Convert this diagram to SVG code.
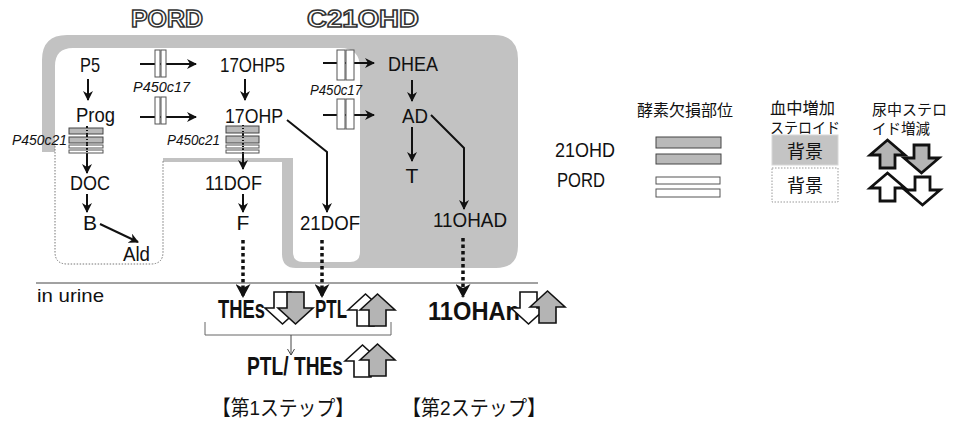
<svg xmlns="http://www.w3.org/2000/svg" width="959" height="421" viewBox="0 0 959 421">
<style>
.t{font-family:"Liberation Sans",Arial,sans-serif;font-size:21px;fill:#111}
.i{font-family:"Liberation Sans",Arial,sans-serif;font-size:15px;font-style:italic;fill:#111}
.b{font-family:"Liberation Sans",Arial,sans-serif;font-size:25px;font-weight:bold;fill:#111}
.j{font-family:"Liberation Sans","Noto Sans CJK JP",sans-serif;font-size:16px;fill:#111}
.ttl{font-family:"Liberation Sans",Arial,sans-serif;font-size:24px;font-weight:bold;fill:#fff;stroke:#333;stroke-width:1.5}
.ln{fill:none;stroke:#111;stroke-width:2}
.dot{fill:none;stroke:#111;stroke-width:3.5;stroke-dasharray:3.5 3}
.gb{fill:#b9b9b9;stroke:#444;stroke-width:1}
.wb{fill:#fff;stroke:#555;stroke-width:1}
.ga{fill:#b4b4b4;stroke:#111;stroke-width:1.6;stroke-linejoin:miter}
.wa{fill:#fff;stroke:#111;stroke-width:1.6;stroke-linejoin:miter}
.lga{fill:#b4b4b4;stroke:#111;stroke-width:2.8}
.lwa{fill:#fff;stroke:#111;stroke-width:2.8}
</style>
<defs>
<marker id="ah" viewBox="0 0 10 10" refX="9" refY="5" markerWidth="10" markerHeight="10" markerUnits="userSpaceOnUse" orient="auto">
<path d="M0,0 L10,5 L0,10 L3,5 Z" fill="#111"/>
</marker>
<marker id="dh" viewBox="0 0 14 15" refX="13" refY="7.5" markerWidth="14" markerHeight="15" markerUnits="userSpaceOnUse" orient="auto">
<path d="M0,0 L14,7.5 L0,15 L4,7.5 Z" fill="#111"/>
</marker>
<path id="U" d="M0,16 L17.5,0 L35,16 L26,16 L26,32 L9,32 L9,16 Z"/>
<path id="D" d="M9,0 L26,0 L26,16 L35,16 L17.5,32 L0,16 L9,16 Z"/>
<path id="LU" d="M0,15 L17.5,0 L35,15 L25,15 L25,28 L10,28 L10,15 Z"/>
<path id="LD" d="M10,0 L25,0 L25,13 L35,13 L17.5,28 L0,13 L10,13 Z"/>
</defs>
<rect width="959" height="421" fill="#fff"/>

<g id="region">
<path d="M42,152 L42,60 Q42,35 67,35 L494,35 Q518,35 518,59 L518,246 Q518,268 496,268 L296,268 Q282,268 282,254 L282,162 L163,162 L163,152 Z" fill="#c2c2c2"/>
<path d="M55,150 L55,66 Q55,48 73,48 L340,48 Q360,48 360,68 L360,252 Q360,262 350,262 L303,262 Q293,262 293,252 L293,158 L163,158 L163,252 Q163,264 151,264 L67,264 Q55,264 55,252 Z" fill="#fff"/>
<path d="M55,140 L55,252 Q55,264 67,264 L151,264 Q163,264 163,252 L163,160" fill="none" stroke="#777" stroke-width="1" stroke-dasharray="1.5 1.5"/>
</g>

<g id="titles">
<text class="ttl" x="131" y="27" textLength="72" lengthAdjust="spacingAndGlyphs">PORD</text>
<text class="ttl" x="307" y="27" textLength="112" lengthAdjust="spacingAndGlyphs">C21OHD</text>
</g>

<g id="connectors">
<line class="ln" x1="88" y1="79" x2="88" y2="100" marker-end="url(#ah)"/>
<line class="ln" x1="245" y1="79" x2="245" y2="100" marker-end="url(#ah)"/>
<line class="ln" x1="412" y1="80" x2="412" y2="101" marker-end="url(#ah)"/>
<line class="ln" x1="87" y1="126" x2="87" y2="173" marker-end="url(#ah)"/>
<line class="ln" x1="87" y1="194" x2="87" y2="212" marker-end="url(#ah)"/>
<line class="ln" x1="100" y1="224" x2="138" y2="242" marker-end="url(#ah)"/>
<line class="ln" x1="243" y1="126" x2="243" y2="169" marker-end="url(#ah)"/>
<line class="ln" x1="243" y1="194" x2="243" y2="212" marker-end="url(#ah)"/>
<line class="ln" x1="412" y1="127" x2="412" y2="161" marker-end="url(#ah)"/>
<polyline class="ln" points="431,115 464,148 464,209" marker-end="url(#ah)"/>
<polyline class="ln" points="287,120 327,152 327,212" marker-end="url(#ah)"/>
<line class="ln" x1="140" y1="64" x2="196" y2="64" marker-end="url(#ah)"/>
<line class="ln" x1="140" y1="117" x2="196" y2="117" marker-end="url(#ah)"/>
<line class="ln" x1="323" y1="63" x2="374" y2="63" marker-end="url(#ah)"/>
<line class="ln" x1="323" y1="115" x2="374" y2="115" marker-end="url(#ah)"/>
<line class="dot" x1="243" y1="240" x2="243" y2="297" marker-end="url(#dh)"/>
<line class="dot" x1="322" y1="240" x2="322" y2="297" marker-end="url(#dh)"/>
<line class="dot" x1="463" y1="238" x2="463" y2="297" marker-end="url(#dh)"/>
<line x1="36" y1="283" x2="538" y2="283" stroke="#444" stroke-width="1"/>
<path d="M205,322 L205,335 L391,335 L391,322" fill="none" stroke="#666" stroke-width="1"/>
<line x1="291" y1="335" x2="291" y2="355" stroke="#444" stroke-width="1"/>
<path d="M287.5,349 L291,355 L294.5,349" fill="none" stroke="#444" stroke-width="1"/>
</g>

<g id="blocks">
<rect class="wb" x="155" y="50" width="5" height="27"/>
<rect class="wb" x="161" y="50" width="5" height="27"/>
<rect class="wb" x="155" y="97" width="5" height="27"/>
<rect class="wb" x="161" y="97" width="5" height="27"/>
<rect class="wb" x="337" y="50" width="8" height="30"/>
<rect class="wb" x="346" y="50" width="8" height="30"/>
<rect class="wb" x="337" y="99" width="8" height="30"/>
<rect class="wb" x="346" y="99" width="8" height="30"/>
<rect class="gb" x="69" y="128" width="34" height="6"/>
<rect class="gb" x="69" y="137" width="34" height="6"/>
<rect class="wb" x="69" y="145" width="34" height="3"/>
<rect class="wb" x="69" y="150" width="34" height="3"/>
<rect class="gb" x="226" y="126" width="33" height="7"/>
<rect class="gb" x="226" y="136" width="33" height="7"/>
<rect class="wb" x="226" y="145" width="33" height="3"/>
<rect class="wb" x="226" y="150" width="33" height="3"/>
<line x1="87" y1="127" x2="87" y2="154" stroke="#111" stroke-width="2" stroke-dasharray="1 2"/>
<line x1="243" y1="125" x2="243" y2="154" stroke="#111" stroke-width="2" stroke-dasharray="1 2"/>
<text class="i" x="133" y="92" textLength="57" lengthAdjust="spacingAndGlyphs">P450c17</text>
<text class="i" x="310" y="95" textLength="52" lengthAdjust="spacingAndGlyphs">P450c17</text>
<text class="i" x="12" y="145" textLength="55" lengthAdjust="spacingAndGlyphs">P450c21</text>
<text class="i" x="167" y="145" textLength="53" lengthAdjust="spacingAndGlyphs">P450c21</text>
</g>

<g id="n-P5"><text class="t" x="80" y="72" textLength="20" lengthAdjust="spacingAndGlyphs">P5</text></g>
<g id="n-17OHP5"><text class="t" x="220" y="72" textLength="65" lengthAdjust="spacingAndGlyphs">17OHP5</text></g>
<g id="n-DHEA"><text class="t" x="388" y="71" textLength="50" lengthAdjust="spacingAndGlyphs">DHEA</text></g>
<g id="n-Prog"><text class="t" x="76" y="122" textLength="39" lengthAdjust="spacingAndGlyphs">Prog</text></g>
<g id="n-17OHP"><text class="t" x="225" y="123" textLength="58" lengthAdjust="spacingAndGlyphs">17OHP</text></g>
<g id="n-AD"><text class="t" x="402" y="123" textLength="26" lengthAdjust="spacingAndGlyphs">AD</text></g>
<g id="n-DOC"><text class="t" x="70" y="190" textLength="40" lengthAdjust="spacingAndGlyphs">DOC</text></g>
<g id="n-B"><text class="t" x="83" y="230">B</text></g>
<g id="n-Ald"><text class="t" x="123" y="261" textLength="27" lengthAdjust="spacingAndGlyphs">Ald</text></g>
<g id="n-11DOF"><text class="t" x="205" y="190" textLength="57" lengthAdjust="spacingAndGlyphs">11DOF</text></g>
<g id="n-F"><text class="t" x="243" y="230" text-anchor="middle">F</text></g>
<g id="n-21DOF"><text class="t" x="300" y="230" textLength="60" lengthAdjust="spacingAndGlyphs">21DOF</text></g>
<g id="n-T"><text class="t" x="412" y="183" text-anchor="middle">T</text></g>
<g id="n-11OHAD"><text class="t" x="433" y="227" textLength="74" lengthAdjust="spacingAndGlyphs">11OHAD</text></g>

<g id="urine">
<text class="t" x="37" y="302" style="font-size:19px" textLength="67" lengthAdjust="spacingAndGlyphs">in urine</text>
<text class="b" x="218" y="318" textLength="47" lengthAdjust="spacingAndGlyphs">THEs</text>
<use href="#D" class="wa" x="265" y="292"/>
<use href="#D" class="ga" x="278" y="292"/>
<text class="b" x="315" y="318" textLength="32" lengthAdjust="spacingAndGlyphs">PTL</text>
<use href="#U" class="wa" x="348" y="294"/>
<use href="#U" class="ga" x="360" y="294"/>
<text class="b" x="428" y="320" textLength="92" lengthAdjust="spacingAndGlyphs">11OHAn</text>
<use href="#D" class="wa" x="511" y="292"/>
<use href="#U" class="ga" x="530" y="291"/>
<text class="b" x="247" y="375" textLength="96" lengthAdjust="spacingAndGlyphs">PTL/ THEs</text>
<use href="#U" class="wa" x="345" y="345"/>
<use href="#U" class="ga" x="360" y="344"/>
<text class="j" x="212" y="415" style="font-size:21px" textLength="142" lengthAdjust="spacingAndGlyphs">【第1ステップ】</text>
<text class="j" x="402" y="415" style="font-size:21px" textLength="144" lengthAdjust="spacingAndGlyphs">【第2ステップ】</text>
</g>

<g id="legend">
<text class="j" x="637" y="116" textLength="96" lengthAdjust="spacingAndGlyphs">酵素欠損部位</text>
<text class="t" x="555" y="157" textLength="60" lengthAdjust="spacingAndGlyphs">21OHD</text>
<text class="t" x="557" y="187" textLength="48" lengthAdjust="spacingAndGlyphs">PORD</text>
<rect class="gb" x="656" y="137" width="65" height="11"/>
<rect class="gb" x="656" y="154" width="65" height="10"/>
<rect class="wb" x="656" y="177" width="64" height="7"/>
<rect class="wb" x="656" y="189" width="64" height="8"/>
<text class="j" x="770" y="114" textLength="65" lengthAdjust="spacingAndGlyphs">血中増加</text>
<text class="j" x="770" y="133" style="font-size:15px" textLength="70" lengthAdjust="spacingAndGlyphs">ステロイド</text>
<rect x="772" y="135" width="66" height="30" fill="#c4c4c4" stroke="#d8d8d8" stroke-width="1"/>
<text class="j" x="805" y="158" style="font-size:18px" text-anchor="middle">背景</text>
<rect x="772" y="168" width="66" height="34" fill="#fff" stroke="#999" stroke-width="1" stroke-dasharray="1.5 1.5"/>
<text class="j" x="805" y="192" style="font-size:18px" text-anchor="middle">背景</text>
<text class="j" x="872" y="115" style="font-size:15px" textLength="75" lengthAdjust="spacingAndGlyphs">尿中ステロ</text>
<text class="j" x="872" y="134" style="font-size:15px" textLength="58" lengthAdjust="spacingAndGlyphs">イド増減</text>
<use href="#LU" class="lga" x="870" y="140"/>
<use href="#LD" class="lga" x="904" y="145"/>
<use href="#LU" class="lwa" x="870" y="173"/>
<use href="#LD" class="lwa" x="905" y="177"/>
</g>
</svg>
